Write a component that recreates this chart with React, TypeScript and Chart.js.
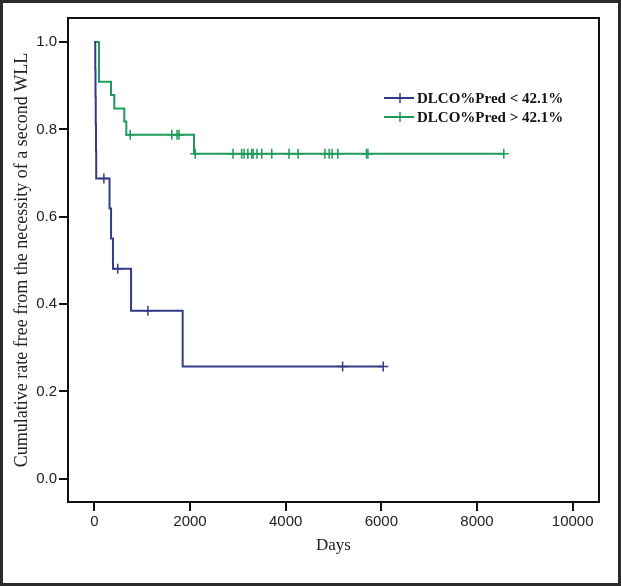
import React, { useEffect, useRef } from 'react';
import { Chart, registerables } from 'chart.js';

Chart.register(...registerables);

// Kaplan–Meier step data (days, cumulative rate)
const lowLabel = 'DLCO%Pred < 42.1%';
const lowDays = [0, 20, 25, 30, 35, 40, 318, 350, 390, 768, 1847, 6040];
const lowSurv = [1, 0.9375, 0.875, 0.8125, 0.75, 0.6875, 0.619, 0.55, 0.481, 0.385, 0.257, 0.257];
const lowCensored = [200, 490, 1120, 5190, 6040];

const highLabel = 'DLCO%Pred > 42.1%';
const highDays = [0, 98, 349, 418, 627, 669, 2084, 8560];
const highSurv = [1, 0.909, 0.879, 0.848, 0.818, 0.788, 0.744, 0.744];
const highCensored = [750, 1620, 1730, 1770, 2110, 2900, 3080, 3130, 3210, 3290, 3320, 3400, 3500, 3710, 4070, 4260, 4820, 4910, 4970, 5090, 5690, 5720, 8560];

const xTicks = [0, 2000, 4000, 6000, 8000, 10000];
const yTicks = [0, 0.2, 0.4, 0.6, 0.8, 1.0];

const xTitle = 'Days';
const yTitle = 'Cumulative rate free from the necessity of a second WLL';

const BLUE = '#323c86';
const GREEN = '#1e9b57';

function survAt(days: number[], surv: number[], t: number): number {
  let v = surv[0];
  for (let i = 0; i < days.length; i++) {
    if (days[i] <= t) v = surv[i];
  }
  return v;
}

const framePlugin = {
  id: 'framePlugin',
  beforeDraw(chart: any) {
    const { ctx, width, height } = chart;
    ctx.save();
    ctx.fillStyle = '#ffffff';
    ctx.fillRect(0, 0, width, height);
    ctx.restore();
  },
  afterDraw(chart: any) {
    const { ctx, width, height, chartArea } = chart;
    ctx.save();
    ctx.strokeStyle = '#111';
    ctx.lineWidth = 2;
    ctx.strokeRect(chartArea.left, chartArea.top, chartArea.right - chartArea.left, chartArea.bottom - chartArea.top);
    ctx.strokeStyle = '#2a2a2a';
    ctx.lineWidth = 3;
    ctx.strokeRect(1.5, 1.5, width - 3, height - 3);
    const items = [
      { label: lowLabel, color: BLUE, y: 98 },
      { label: highLabel, color: GREEN, y: 117 },
    ];
    items.forEach((it) => {
      ctx.strokeStyle = it.color;
      ctx.lineWidth = 2;
      ctx.beginPath();
      ctx.moveTo(384, it.y);
      ctx.lineTo(414, it.y);
      ctx.stroke();
      ctx.lineWidth = 1.5;
      ctx.beginPath();
      ctx.moveTo(400, it.y - 5);
      ctx.lineTo(400, it.y + 5);
      ctx.stroke();
      ctx.fillStyle = '#111';
      ctx.font = 'bold 15px "Liberation Serif"';
      ctx.textBaseline = 'middle';
      ctx.textAlign = 'left';
      ctx.fillText(it.label, 417, it.y + 1);
    });
    ctx.restore();
  },
};

export default function App() {
  const ref = useRef<HTMLCanvasElement | null>(null);

  useEffect(() => {
    document.body.style.margin = '0';
    if (!ref.current) return;
    const chart = new Chart(ref.current, {
      type: 'line',
      data: {
        datasets: [
          {
            label: lowLabel,
            data: lowDays.map((d, i) => ({ x: d, y: lowSurv[i] })),
            borderColor: BLUE,
            borderWidth: 2,
            stepped: 'before',
            pointRadius: 0,
            fill: false,
          },
          {
            label: highLabel,
            data: highDays.map((d, i) => ({ x: d, y: highSurv[i] })),
            borderColor: GREEN,
            borderWidth: 2,
            stepped: 'before',
            pointRadius: 0,
            fill: false,
          },
          {
            label: lowLabel + ' censored',
            data: lowCensored.map((t) => ({ x: t, y: survAt(lowDays, lowSurv, t) })),
            showLine: false,
            pointStyle: 'cross',
            pointRadius: 5,
            pointBorderWidth: 1.5,
            borderColor: BLUE,
            backgroundColor: BLUE,
          },
          {
            label: highLabel + ' censored',
            data: highCensored.map((t) => ({ x: t, y: survAt(highDays, highSurv, t) })),
            showLine: false,
            pointStyle: 'cross',
            pointRadius: 5,
            pointBorderWidth: 1.5,
            borderColor: GREEN,
            backgroundColor: GREEN,
          },
        ],
      },
      options: {
        responsive: false,
        animation: false,
        layout: { padding: { left: 0, top: 18, right: 22, bottom: 0 } },
        plugins: {
          legend: { display: false },
          tooltip: { enabled: false },
        },
        scales: {
          x: {
            type: 'linear',
            min: -550,
            max: 10550,
            afterBuildTicks: (scale: any) => {
              scale.ticks = xTicks.map((v) => ({ value: v }));
            },
            afterFit: (scale: any) => {
              scale.height = 84;
            },
            grid: {
              display: true,
              drawOnChartArea: false,
              drawTicks: true,
              tickLength: 9,
              color: '#111',
              lineWidth: 2,
            },
            border: { display: false },
            ticks: {
              color: '#222',
              font: { family: '"Liberation Sans", Arial, sans-serif', size: 15 },
              padding: 2,
              maxRotation: 0,
              callback: (v: any) => String(v),
            },
            title: {
              display: true,
              text: xTitle,
              color: '#222',
              font: { family: '"Liberation Serif", serif', size: 17 },
              padding: { top: 4, bottom: 30 },
            },
          },
          y: {
            type: 'linear',
            min: -0.053,
            max: 1.055,
            afterBuildTicks: (scale: any) => {
              scale.ticks = yTicks.map((v) => ({ value: v }));
            },
            afterFit: (scale: any) => {
              scale.width = 68;
            },
            grid: {
              display: true,
              drawOnChartArea: false,
              drawTicks: true,
              tickLength: 9,
              color: '#111',
              lineWidth: 2,
            },
            border: { display: false },
            ticks: {
              color: '#222',
              font: { family: '"Liberation Sans", Arial, sans-serif', size: 15 },
              padding: 2,
              callback: (v: any) => Number(v).toFixed(1),
            },
            title: {
              display: true,
              text: yTitle,
              color: '#222',
              font: { family: '"Liberation Serif", serif', size: 18 },
              padding: { top: 11, bottom: 0 },
            },
          },
        },
      },
      plugins: [framePlugin],
    });
    return () => chart.destroy();
  }, []);

  return (
    <div style={{ position: 'fixed', left: 0, top: 0, width: 621, height: 586 }}>
      <canvas ref={ref} width={621} height={586} />
    </div>
  );
}
